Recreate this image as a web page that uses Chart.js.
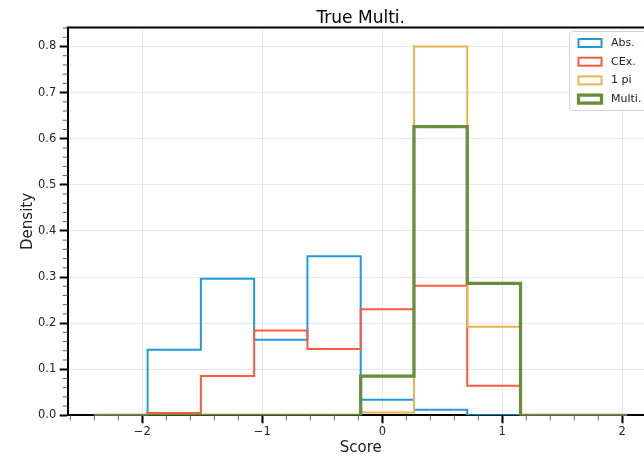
<!DOCTYPE html>
<html>
<head>
<meta charset="utf-8">
<script src="https://cdn.jsdelivr.net/npm/chart.js@4/dist/chart.umd.min.js"></script>
<style>
  html, body { margin: 0; padding: 0; background: #fff; overflow: hidden; }
  #wrap { width: 644px; height: 457px; overflow: hidden; }
  canvas { display: block; }
</style>
</head>
<body>
<div id="wrap"><canvas id="c" width="664" height="457" style="width:664px;height:457px"></canvas></div>
<script>
// Histogram bin edges (Score) and per-bin densities for each category
const binEdges = [-2.4, -1.956, -1.512, -1.068, -0.624, -0.18, 0.264, 0.708, 1.152, 1.596, 2.04];
const absDensity   = [0, 0.142, 0.296, 0.164, 0.345, 0.034, 0.012, 0, 0, 0];
const cexDensity   = [0, 0.005, 0.085, 0.184, 0.144, 0.230, 0.281, 0.064, 0, 0];
const onePiDensity = [0, 0, 0, 0, 0, 0.006, 0.800, 0.192, 0, 0];
const multiDensity = [0, 0, 0, 0, 0, 0.085, 0.626, 0.286, 0, 0];

const seriesNames = ['Abs.', 'CEx.', '1 pi', 'Multi.'];
const xTicks = [-2, -1, 0, 1, 2];
const yTicks = [0, 0.1, 0.2, 0.3, 0.4, 0.5, 0.6, 0.7, 0.8];
const titleText = 'True Multi.';
const xTitle = 'Score';
const yTitle = 'Density';

const colors = ['#1f9bdc', '#fc5b3d', '#e8b44b', '#6a8d3c'];
const widths = [2, 2, 2, 3.3];

// outline of a step histogram: start at the first edge on zero, end back on zero
function stepOutline(values) {
  const pts = [{x: binEdges[0], y: 0}];
  for (let i = 0; i < values.length; i++) pts.push({x: binEdges[i + 1], y: values[i]});
  pts.push({x: binEdges[binEdges.length - 1], y: 0});
  return pts;
}

const allSeries = [absDensity, cexDensity, onePiDensity, multiDensity];
const datasets = allSeries.map((vals, i) => ({
  label: seriesNames[i],
  data: stepOutline(vals),
  borderColor: colors[i],
  borderWidth: widths[i],
  stepped: 'after',
  fill: false,
  pointRadius: 0,
  order: allSeries.length - i,
  borderJoinStyle: 'miter',
  borderCapStyle: 'butt'
}));

const fmtX = v => (v < 0 ? '\u2212' + Math.abs(v) : String(v));

const decorations = {
  id: 'decorations',
  afterDraw(chart) {
    const {ctx, chartArea: a, scales: {x, y}} = chart;
    ctx.save();

    // minor ticks
    ctx.strokeStyle = '#666';
    ctx.lineWidth = 1;
    ctx.beginPath();
    for (let i = -13; i <= 11; i++) {
      if (i % 5 === 0) continue;
      const px = x.getPixelForValue(i * 0.2);
      if (px < a.left - 0.5 || px > a.right + 0.5) continue;
      ctx.moveTo(px, a.bottom);
      ctx.lineTo(px, a.bottom + 5);
    }
    for (let j = 1; j <= 42; j++) {
      if (j % 5 === 0) continue;
      const py = y.getPixelForValue(j * 0.02);
      if (py < a.top - 0.5) continue;
      ctx.moveTo(a.left, py);
      ctx.lineTo(a.left - 5, py);
    }
    ctx.stroke();

    // top and right spines
    ctx.strokeStyle = '#000';
    ctx.lineWidth = 2;
    ctx.beginPath();
    ctx.moveTo(a.left - 1, a.top);
    ctx.lineTo(a.right, a.top);
    ctx.lineTo(a.right, a.bottom);
    ctx.stroke();

    // title
    const cx = (a.left + a.right) / 2;
    ctx.fillStyle = '#000';
    ctx.font = '17px "DejaVu Sans"';
    ctx.textAlign = 'center';
    ctx.textBaseline = 'alphabetic';
    ctx.fillText(titleText, cx, 23);

    // axis titles
    ctx.fillStyle = '#222';
    ctx.font = '15px "DejaVu Sans"';
    ctx.textBaseline = 'middle';
    ctx.fillText(xTitle, cx, 448);
    ctx.save();
    ctx.translate(28, (a.top + a.bottom) / 2);
    ctx.rotate(-Math.PI / 2);
    ctx.fillText(yTitle, 0, 0);
    ctx.restore();

    // legend
    const lx = 569, ly = 31, lw = a.right - 5.5 - lx, lh = 79;
    ctx.fillStyle = 'rgba(255,255,255,0.85)';
    ctx.strokeStyle = '#d4d4d4';
    ctx.lineWidth = 1;
    ctx.beginPath();
    ctx.roundRect(lx + 0.5, ly + 0.5, lw, lh, 3);
    ctx.fill();
    ctx.stroke();
    ctx.font = '11px "DejaVu Sans"';
    ctx.textAlign = 'left';
    ctx.textBaseline = 'middle';
    seriesNames.forEach((name, i) => {
      const ry = 43 + i * 18.7;
      ctx.strokeStyle = colors[i];
      ctx.lineWidth = widths[i];
      ctx.strokeRect(578.5, ry - 4, 23, 8);
      ctx.fillStyle = '#222';
      ctx.fillText(name, 611, ry);
    });

    ctx.restore();
  }
};

Chart.defaults.font.family = '"DejaVu Sans"';

new Chart(document.getElementById('c'), {
  type: 'line',
  data: { datasets },
  options: {
    responsive: false,
    devicePixelRatio: 1,
    animation: false,
    events: [],
    layout: { padding: { top: 27.6, right: 10.3, bottom: 0, left: 0 } },
    plugins: { legend: { display: false }, tooltip: { enabled: false }, title: { display: false } },
    scales: {
      x: {
        type: 'linear',
        min: -2.622,
        max: 2.262,
        afterBuildTicks: s => { s.ticks = xTicks.map(v => ({value: v})); },
        afterFit: s => { s.height = 41.7; },
        ticks: { callback: v => fmtX(v), color: '#262626', font: { size: 11.5 }, padding: 2, maxRotation: 0, autoSkip: false },
        grid: { color: '#e8e8e8', lineWidth: 1, tickColor: '#000', tickWidth: 2, tickLength: 8 },
        border: { color: '#000', width: 2 }
      },
      y: {
        type: 'linear',
        min: 0,
        max: 0.841,
        afterBuildTicks: s => { s.ticks = yTicks.map(v => ({value: v})); },
        afterFit: s => { s.width = 67.7; },
        ticks: { callback: v => v.toFixed(1), color: '#262626', font: { size: 11.5 }, padding: 3.5, autoSkip: false },
        grid: { color: '#e8e8e8', lineWidth: 1, tickColor: '#000', tickWidth: 2, tickLength: 8 },
        border: { color: '#000', width: 2 }
      }
    }
  },
  plugins: [decorations]
});
</script>
</body>
</html>
